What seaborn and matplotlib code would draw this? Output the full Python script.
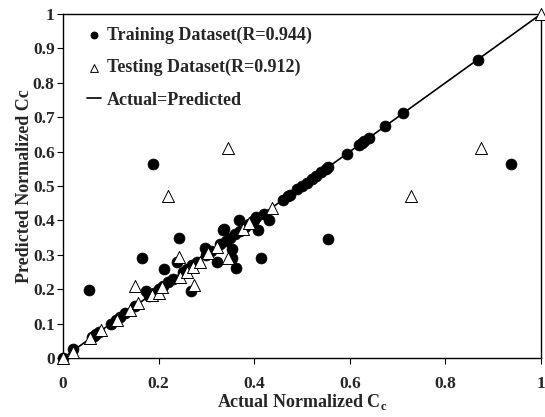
import matplotlib
matplotlib.use("Agg")
import matplotlib.pyplot as plt
from matplotlib import font_manager as fm
import seaborn as sns
import pandas as pd
import numpy as np

# Training dataset (filled circles)
train_actual = [0.00, 0.02, 0.055, 0.06, 0.065, 0.07, 0.075, 0.10, 0.11, 0.12, 0.13, 0.15,
                0.165, 0.174, 0.18, 0.188, 0.19, 0.20, 0.21, 0.211, 0.22, 0.23, 0.238, 0.243,
                0.25, 0.26, 0.268, 0.27, 0.28, 0.297, 0.30, 0.31, 0.322, 0.328, 0.335, 0.337,
                0.34, 0.35, 0.353, 0.354, 0.36, 0.362, 0.368, 0.37, 0.38, 0.39, 0.40, 0.404,
                0.408, 0.414, 0.42, 0.43, 0.46, 0.47, 0.475, 0.49, 0.50, 0.51, 0.52, 0.53,
                0.54, 0.55, 0.555, 0.554, 0.594, 0.62, 0.625, 0.63, 0.64, 0.673, 0.711,
                0.868, 0.937]
train_pred = [0.00, 0.025, 0.197, 0.06, 0.065, 0.07, 0.075, 0.10, 0.11, 0.12, 0.13, 0.15,
              0.29, 0.195, 0.18, 0.564, 0.19, 0.20, 0.21, 0.26, 0.22, 0.23, 0.28, 0.35,
              0.25, 0.26, 0.195, 0.27, 0.28, 0.32, 0.30, 0.31, 0.28, 0.33, 0.372, 0.375,
              0.34, 0.35, 0.317, 0.29, 0.36, 0.262, 0.40, 0.37, 0.38, 0.39, 0.40, 0.41,
              0.372, 0.29, 0.42, 0.40, 0.46, 0.47, 0.475, 0.49, 0.50, 0.51, 0.52, 0.53,
              0.54, 0.55, 0.555, 0.347, 0.594, 0.62, 0.625, 0.63, 0.64, 0.673, 0.711,
              0.866, 0.564]

# Testing dataset (hollow triangles)
test_actual = [0.00, 0.02, 0.056, 0.08, 0.113, 0.14, 0.15, 0.157, 0.186, 0.20, 0.207,
               0.22, 0.243, 0.245, 0.259, 0.272, 0.274, 0.287, 0.304, 0.322, 0.345, 0.345,
               0.377, 0.39, 0.437, 0.728, 0.875, 1.00]
test_pred = [0.00, 0.018, 0.058, 0.08, 0.11, 0.14, 0.21, 0.16, 0.183, 0.19, 0.206,
             0.472, 0.294, 0.235, 0.25, 0.265, 0.212, 0.28, 0.305, 0.323, 0.29, 0.61,
             0.375, 0.392, 0.436, 0.471, 0.61, 1.00]

# Identity line
line_x = [0.0, 1.0]
line_y = [0.0, 1.0]

x_ticks = [0, 0.2, 0.4, 0.6, 0.8, 1.0]
x_labels = ["0", "0.2", "0.4", "0.6", "0.8", "1"]
y_ticks = [0, 0.1, 0.2, 0.3, 0.4, 0.5, 0.6, 0.7, 0.8, 0.9, 1.0]
y_labels = ["0", "0.1", "0.2", "0.3", "0.4", "0.5", "0.6", "0.7", "0.8", "0.9", "1"]

sns.set_theme(style="white")
plt.rcParams['font.family'] = ['Liberation Serif', 'DejaVu Serif']
plt.rcParams['font.weight'] = 'bold'
plt.rcParams['mathtext.fontset'] = 'custom'
plt.rcParams['mathtext.rm'] = 'Liberation Serif:bold'
plt.rcParams['mathtext.bf'] = 'Liberation Serif:bold'

fig = plt.figure(figsize=(5.45, 4.17), dpi=100)
ax = fig.add_axes([0.1156, 0.1415, 0.8771, 0.8249])

df_line = pd.DataFrame({"x": line_x, "y": line_y})
df_train = pd.DataFrame({"x": train_actual, "y": train_pred})
df_test = pd.DataFrame({"x": test_actual, "y": test_pred})

sns.lineplot(data=df_line, x="x", y="y", color="black", linewidth=1.2, ax=ax,
             zorder=1, label="Actual=Predicted")
sns.scatterplot(data=df_train, x="x", y="y", marker="o", color="black", s=62,
                edgecolor="black", linewidth=0.5, ax=ax, zorder=2, clip_on=False,
                label="Training Dataset(R=0.944)")
sns.scatterplot(data=df_test, x="x", y="y", marker="^", color="white", s=75,
                edgecolor="black", linewidth=0.7, ax=ax, zorder=3, clip_on=False,
                label="Testing Dataset(R=0.912)")

ax.set_xlim(0, 1)
ax.set_ylim(0, 1)
ax.set_xticks(x_ticks)
ax.set_xticklabels(x_labels, fontweight="bold", fontsize=12.5)
ax.set_yticks(y_ticks)
ax.set_yticklabels(y_labels, fontweight="bold", fontsize=12.5)
ax.tick_params(axis="both", direction="out", length=4, width=0.8, color="black",
               bottom=True, left=True)
ax.tick_params(axis="x", pad=9)
ax.tick_params(axis="y", pad=2)
for sp in ax.spines.values():
    sp.set_color("black")
    sp.set_linewidth(1.0)

ax.set_xlabel("Actual Normalized C$_\\mathbf{c}$", fontweight="bold", fontsize=13, labelpad=0)
ax.set_ylabel("Predicted Normalized Cc", fontweight="bold", fontsize=13, labelpad=0)

handles, labels = ax.get_legend_handles_labels()
order = [labels.index("Training Dataset(R=0.944)"),
         labels.index("Testing Dataset(R=0.912)"),
         labels.index("Actual=Predicted")]
legend_font = fm.FontProperties(family="Liberation Serif", weight="bold", size=13)
leg = ax.legend([handles[i] for i in order], [labels[i] for i in order],
                loc="upper left", bbox_to_anchor=(0.035, 0.985), frameon=False,
                prop=legend_font,
                handlelength=0.8, handletextpad=0.3, labelspacing=0.85,
                markerscale=0.65, borderaxespad=0)
for t in leg.get_texts():
    t.set_fontweight("bold")

fig.savefig("out.png", dpi=100)
